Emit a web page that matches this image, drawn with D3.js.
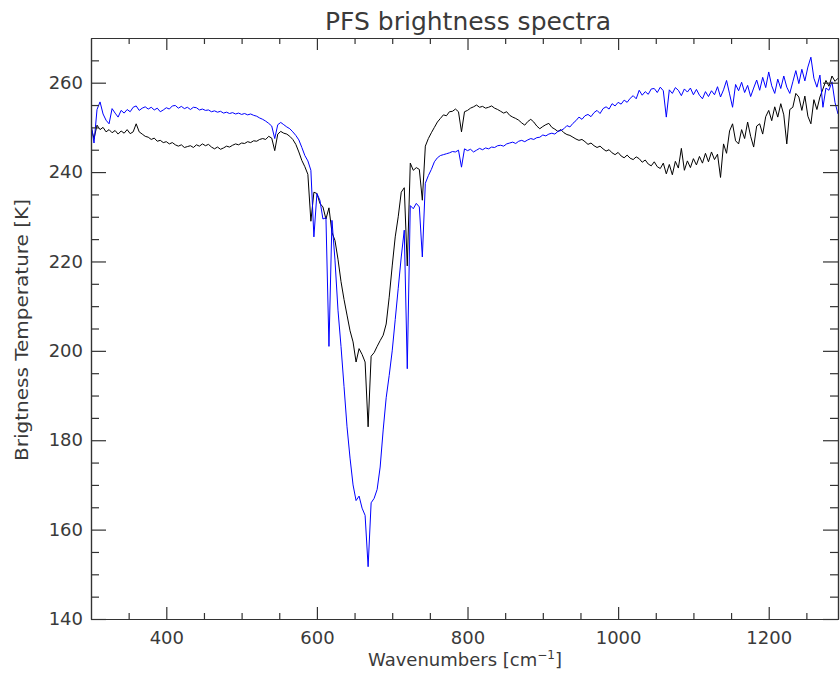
<!DOCTYPE html>
<html>
<head>
<meta charset="utf-8">
<script src="https://cdn.jsdelivr.net/npm/d3@7/dist/d3.min.js"></script>
<style>
  body { margin: 0; background: #fff; }
  text { font-family: "DejaVu Sans", sans-serif; fill: #3a3a3a; }
  .axis path, .axis line { stroke: #333; stroke-width: 1.2; }
</style>
</head>
<body>
<div id="chart"></div>
<script>
// Wavenumber grid [cm-1]
const wavenumbers = [
  300,304,308,312,316,320,324,328,332,336,340,344,348,352,356,360,364,368,372,376,380,384,388,392,396,
  400,404,408,412,416,420,424,428,432,436,440,444,448,452,456,460,464,468,472,476,480,484,488,492,496,
  500,504,508,512,516,520,524,528,532,536,540,544,548,552,556,560,564,568,572,576,580,584,588,592,596,
  600,604,608,612,616,620,624,628,632,636,640,644,648,652,656,660,664,668,672,676,680,684,688,692,696,
  700,704,708,712,716,720,724,728,732,736,740,744,748,752,756,760,764,768,772,776,780,784,788,792,796,
  800,804,808,812,816,820,824,828,832,836,840,844,848,852,856,860,864,868,872,876,880,884,888,892,896,
  900,904,908,912,916,920,924,928,932,936,940,944,948,952,956,960,964,968,972,976,980,984,988,992,996,
  1000,1004,1008,1012,1016,1020,1024,1028,1032,1036,1040,1044,1048,1052,1056,1060,1064,1068,1072,1076,1080,1084,1088,1092,1096,
  1100,1104,1108,1112,1116,1120,1124,1128,1132,1136,1140,1144,1148,1152,1156,1160,1164,1168,1172,1176,1180,1184,1188,1192,1196,
  1200,1204,1208,1212,1216,1220,1224,1228,1232,1236,1240,1244,1248,1252,1256,1260,1264,1268,1272,1276,1280,1284,1288,1292
];

// Brightness temperature [K], black spectrum
const blackSpectrum = [
  250,247.5,250.5,249.5,250,249,249.5,248.8,249.3,248.5,249.2,248.7,249.5,248.6,249,250.8,249,248.5,248,247.8,247.3,247.6,246.9,247.1,246.6,
  246.8,246.3,246.6,246.1,245.8,246.1,245.5,245.7,245.9,245.5,246.1,245.8,246.3,245.9,246.2,245.6,245.2,245.6,245.1,245.4,245.8,245.6,246,246.3,246.1,
  246.5,246.4,246.8,246.6,247,246.9,247.3,247.5,247.3,248,247.6,244.8,248.5,249.1,248.7,248.5,248,247.3,246.2,244.5,242.6,241.2,239.5,229,235.5,
  235.2,233,232.2,229.5,232,226.5,224.7,220.5,215.5,211.5,208,204.5,202,197.5,200.5,199.2,197.5,183,198.8,199.6,201,202.3,203.5,206,212,
  219,225.5,230,235.5,236.5,219,242,240.4,241,240.6,233.7,245.8,247.5,248.8,250,251.2,252,252.8,252.6,253.5,253.6,254.1,253.5,249,253.5,
  253.8,254.3,254.6,255,254.5,254.7,254.3,254.5,254.8,254.3,254,253.6,253.2,253.5,252.7,252.3,252,251.6,251,250.5,251.3,251.8,251.2,250.3,249.7,
  250.2,250.6,250.9,250,249.6,249.1,249.5,248.8,248.4,248.2,247.8,247.4,247.1,247.3,246.8,246.2,246.5,245.9,245.5,245.8,245.2,244.7,245,244.3,243.9,
  244.4,243.6,243.2,243.8,243.1,242.8,243.4,243,242.2,242.7,241.8,241.4,242.3,241.2,240.8,242,239.6,241.7,239.4,242.4,240.9,245.3,240.4,242.5,241,
  243,241.6,243.5,242,244.2,242.3,244.5,242.8,244,238.8,246.3,244.2,249.2,250.8,247,246.3,249.5,247.5,251.2,248,245.6,250.3,250.8,248.5,252.4,
  253.8,251.5,254.6,252.3,255.3,252.8,246.3,254,254.5,257.6,256.8,253.8,257,252.5,250.8,256.2,254,256.8,258.6,260.5,259.2,261.5,260.3,261
];

// Brightness temperature [K], blue spectrum
const blueSpectrum = [
  251,246.5,254,255.7,253,251.6,250.8,254.2,253.2,252.3,253.8,253.2,254,253.5,254.5,254.8,253.8,254.3,254.6,254.1,254.5,253.9,254.3,253.5,253.9,
  254.4,254.1,254.8,254.9,254.3,254.7,254.2,254.5,254,254.5,254.4,253.9,254.1,253.8,253.9,253.5,253.7,253.4,253.6,253.2,253.4,253.1,253.3,253,253.2,
  252.9,253.1,252.8,253,252.7,252.5,252.1,251.8,251.4,250.9,250.3,247.5,250.6,251.1,250.6,250.1,249.7,249,248.2,247.2,245.5,243.7,242.5,240.4,225.5,
  235.2,233.7,229.5,229.8,201,229.2,220.3,209.1,201,192,183,176,170,166.5,167.5,164.8,163.2,151.7,166,167,169,174,182.3,189.5,194.5,
  200,207,214,221,227,196,232.5,231.8,233,232.2,221,237.5,239.2,240.6,242.3,243.2,243.7,243.9,244.1,244.3,244.6,244.5,244.9,241.1,245.2,
  244.8,245.1,244.5,244.9,245.3,245,245.4,245.2,245.6,245.5,245.9,246,245.8,246.3,246.5,246.7,246.4,246.9,247.1,246.8,247.2,247.5,247.3,247.7,247.8,
  248.3,248.1,248.5,248.7,248.5,249.1,249.3,249.7,250.4,250.1,250.9,251.5,252.3,251.8,252.6,252.9,252.4,253.3,253.8,253.1,254.2,254.6,254.1,255.3,254.8,
  255.6,255.2,256.1,255.6,256.5,257.1,256.4,258.3,257.2,258,257.4,258.6,258.7,257.8,259,258.2,252.3,258.4,257.6,258.9,258.3,257.1,258.6,257.9,258.8,
  257.3,258.5,257.2,256.4,258,256.9,258.2,257.3,259.1,256.8,258.4,260.5,257.5,254.5,259.6,258.2,260.1,257.8,259.4,256.9,258.8,260.6,258.3,261.2,258.9,
  262.4,259.3,257.6,260.8,258.7,261.5,259,257.6,260.2,262.7,259.8,263,260.4,263.5,265.7,261,259,261.7,254.5,258.8,258.3,260.2,255.6,253
];

const xMajor = [400, 600, 800, 1000, 1200];
const xMinor = [350, 450, 500, 550, 650, 700, 750, 850, 900, 950, 1050, 1100, 1150, 1250];
const yMajor = [140, 160, 180, 200, 220, 240, 260];
const yMinor = [145, 150, 155, 165, 170, 175, 185, 190, 195, 205, 210, 215, 225, 230, 235, 245, 250, 255, 265];

// Plot box
const margin = { top: 38, right: 2, bottom: 58, left: 91 };
const W = 840, H = 677;
const width = W - margin.left - margin.right;
const height = H - margin.top - margin.bottom;

const svg = d3.select("#chart")
  .append("svg")
  .attr("width", W)
  .attr("height", H);

const g = svg.append("g")
  .attr("transform", `translate(${margin.left},${margin.top})`);

const x = d3.scaleLinear().domain([300, 1292]).range([0, width]);
const y = d3.scaleLinear().domain([140, 270]).range([height, 0]);

g.append("clipPath").attr("id", "clip")
  .append("rect").attr("width", width).attr("height", height);

// Spectra
const line = d3.line()
  .x((d, i) => x(wavenumbers[i]))
  .y(d => y(d));

g.append("path")
  .datum(blackSpectrum)
  .attr("clip-path", "url(#clip)")
  .attr("fill", "none")
  .attr("stroke", "#000")
  .attr("stroke-width", 1)
  .attr("d", line);

g.append("path")
  .datum(blueSpectrum)
  .attr("clip-path", "url(#clip)")
  .attr("fill", "none")
  .attr("stroke", "#0000ff")
  .attr("stroke-width", 1)
  .attr("d", line);

// Axes: ticks point inwards on all four sides
function axisGroup(gen, tx, ty) {
  const a = g.append("g").attr("class", "axis")
    .attr("transform", `translate(${tx},${ty})`)
    .call(gen);
  a.selectAll("text").style("font-size", "18px").style("font-family", "DejaVu Sans").attr("fill", "#3a3a3a");
  return a;
}

axisGroup(d3.axisBottom(x).tickValues(xMajor).tickSizeInner(-12).tickSizeOuter(0).tickPadding(12).tickFormat(d3.format("d")), 0, height);
axisGroup(d3.axisBottom(x).tickValues(xMinor).tickSizeInner(-6).tickSizeOuter(0).tickFormat(""), 0, height);
axisGroup(d3.axisTop(x).tickValues(xMajor).tickSizeInner(-12).tickSizeOuter(0).tickFormat(""), 0, 0);
axisGroup(d3.axisTop(x).tickValues(xMinor).tickSizeInner(-6).tickSizeOuter(0).tickFormat(""), 0, 0);

axisGroup(d3.axisLeft(y).tickValues(yMajor).tickSizeInner(-15).tickSizeOuter(0).tickPadding(8).tickFormat(d3.format("d")), 0, 0);
axisGroup(d3.axisLeft(y).tickValues(yMinor).tickSizeInner(-8).tickSizeOuter(0).tickFormat(""), 0, 0);
axisGroup(d3.axisRight(y).tickValues(yMajor).tickSizeInner(-15).tickSizeOuter(0).tickFormat(""), width, 0);
axisGroup(d3.axisRight(y).tickValues(yMinor).tickSizeInner(-8).tickSizeOuter(0).tickFormat(""), width, 0);

// Titles
svg.append("text")
  .attr("x", 468)
  .attr("y", 30)
  .attr("text-anchor", "middle")
  .attr("textLength", 286)
  .attr("lengthAdjust", "spacingAndGlyphs")
  .style("font-size", "24px")
  .text("PFS brightness spectra");

const xl = svg.append("text")
  .attr("x", 465)
  .attr("y", 666)
  .attr("text-anchor", "middle")
  .style("font-size", "18px");
xl.append("tspan").text("Wavenumbers [cm");
xl.append("tspan").attr("dy", -7).style("font-size", "12px").text("\u22121");
xl.append("tspan").attr("dy", 7).text("]");

svg.append("text")
  .attr("transform", "translate(28,330) rotate(-90)")
  .attr("text-anchor", "middle")
  .attr("textLength", 262)
  .attr("lengthAdjust", "spacingAndGlyphs")
  .style("font-size", "18px")
  .text("Brigtness Temperature [K]");
</script>
</body>
</html>
